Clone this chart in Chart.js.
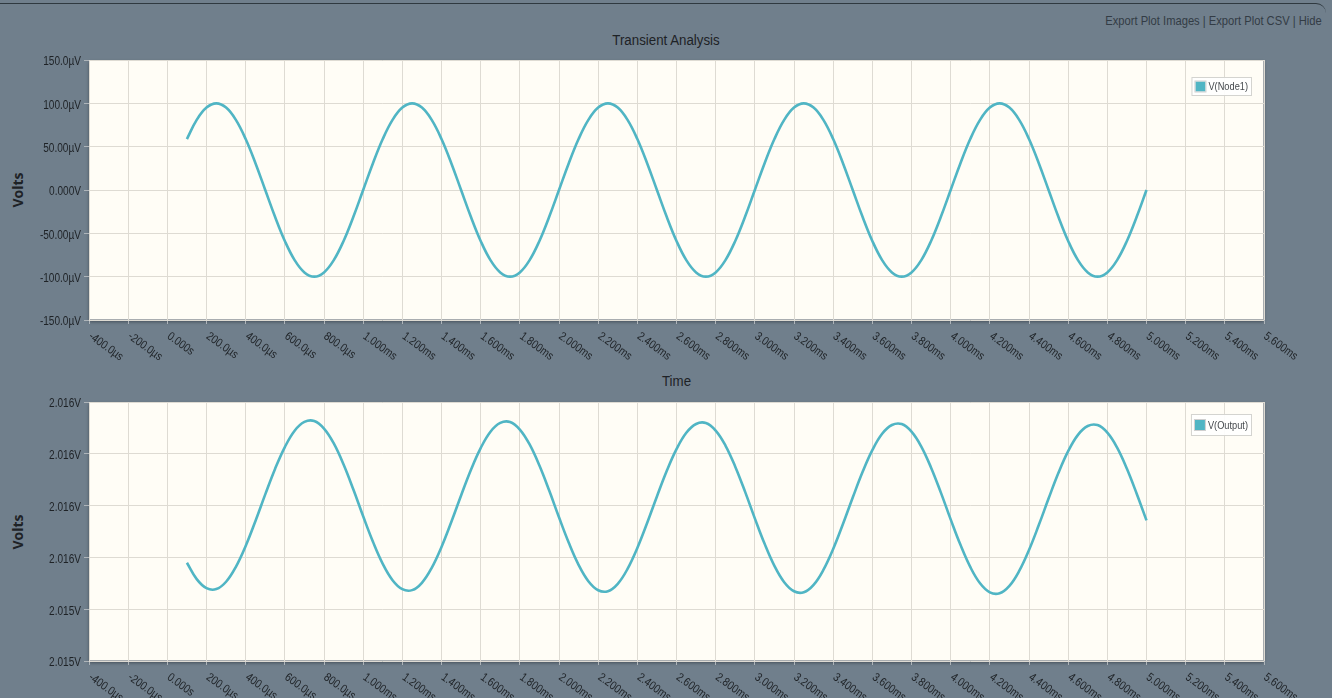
<!DOCTYPE html>
<html>
<head>
<meta charset="utf-8">
<title>Transient Analysis</title>
<script src="https://cdn.jsdelivr.net/npm/chart.js@4.4.1/dist/chart.umd.min.js"></script>
<style>
  html, body { margin: 0; padding: 0; width: 1332px; height: 698px; overflow: hidden; background: #707f8c; font-family: "Liberation Sans", Arial, sans-serif; }
  #panel { position: absolute; left: 0; top: 3px; width: 1326px; height: 695px; background: #707f8c; border-top: 1px solid #2f3940; border-top-right-radius: 10px; }
  .abs { position: absolute; white-space: nowrap; color: #1e2226; }
  #links { right: 10px; top: 13px; font-size: 13px; color: #333c45; transform: scaleX(0.86); transform-origin: right center; }
  #mainTitle { left: 0; width: 1332px; top: 32px; text-align: center; font-size: 14px; transform: scaleX(0.95); }
  #timeTitle { left: 89px; width: 1175px; top: 373px; text-align: center; font-size: 14px; transform: scaleX(0.95); }
  .volts { font-size: 14px; font-weight: bold; color: #1e2226; transform: translate(-50%, -50%) rotate(-90deg); font-family: "Open Sans", "DejaVu Sans", sans-serif; }
  canvas { position: absolute; left: 0; }
  #c1 { top: 0; }
  #c2 { top: 392px; }
</style>
</head>
<body>
<div id="panel"></div>
<div class="abs" id="links">Export Plot Images | Export Plot CSV | Hide</div>
<div class="abs" id="mainTitle">Transient Analysis</div>
<div class="abs" id="timeTitle">Time</div>
<div class="abs volts" style="left:17px; top:190px;">Volts</div>
<div class="abs volts" style="left:17px; top:532px;">Volts</div>
<canvas id="c1" width="1332" height="392"></canvas>
<canvas id="c2" width="1332" height="306"></canvas>
<script>
// Simulation sample times (µs)
const timeUs = [
  100, 150, 200, 250, 300, 350, 400, 450, 500, 550, 600, 650, 700, 750, 800, 850, 900, 950,
  1000, 1050, 1100, 1150, 1200, 1250, 1300, 1350, 1400, 1450, 1500, 1550, 1600, 1650, 1700, 1750, 1800, 1850, 1900, 1950,
  2000, 2050, 2100, 2150, 2200, 2250, 2300, 2350, 2400, 2450, 2500, 2550, 2600, 2650, 2700, 2750, 2800, 2850, 2900, 2950,
  3000, 3050, 3100, 3150, 3200, 3250, 3300, 3350, 3400, 3450, 3500, 3550, 3600, 3650, 3700, 3750, 3800, 3850, 3900, 3950,
  4000, 4050, 4100, 4150, 4200, 4250, 4300, 4350, 4400, 4450, 4500, 4550, 4600, 4650, 4700, 4750, 4800, 4850, 4900, 4950,
  5000
];

// V(Node1) in µV
const node1Uv = [
  58.8, 80.9, 95.1, 100.0, 95.1, 80.9, 58.8, 30.9, 0.0, -30.9, -58.8, -80.9, -95.1, -100.0, -95.1, -80.9, -58.8, -30.9,
  0.0, 30.9, 58.8, 80.9, 95.1, 100.0, 95.1, 80.9, 58.8, 30.9, 0.0, -30.9, -58.8, -80.9, -95.1, -100.0, -95.1, -80.9, -58.8, -30.9,
  0.0, 30.9, 58.8, 80.9, 95.1, 100.0, 95.1, 80.9, 58.8, 30.9, 0.0, -30.9, -58.8, -80.9, -95.1, -100.0, -95.1, -80.9, -58.8, -30.9,
  0.0, 30.9, 58.8, 80.9, 95.1, 100.0, 95.1, 80.9, 58.8, 30.9, 0.0, -30.9, -58.8, -80.9, -95.1, -100.0, -95.1, -80.9, -58.8, -30.9,
  0.0, 30.9, 58.8, 80.9, 95.1, 100.0, 95.1, 80.9, 58.8, 30.9, 0.0, -30.9, -58.8, -80.9, -95.1, -100.0, -95.1, -80.9, -58.8, -30.9,
  0.0
];

// V(Output) in V
const outputV = [
  2.0154948, 2.0154790, 2.0154703, 2.0154694, 2.0154765, 2.0154909, 2.0155111, 2.0155352, 2.0155608, 2.0155854, 2.0156065, 2.0156223, 2.0156308, 2.0156317, 2.0156244, 2.0156100, 2.0155896, 2.0155655,
  2.0155397, 2.0155151, 2.0154938, 2.0154780, 2.0154693, 2.0154684, 2.0154755, 2.0154899, 2.0155101, 2.0155342, 2.0155598, 2.0155844, 2.0156055, 2.0156213, 2.0156298, 2.0156307, 2.0156234, 2.0156090, 2.0155886, 2.0155645,
  2.0155387, 2.0155141, 2.0154928, 2.0154770, 2.0154683, 2.0154674, 2.0154745, 2.0154889, 2.0155091, 2.0155332, 2.0155588, 2.0155834, 2.0156045, 2.0156203, 2.0156288, 2.0156297, 2.0156224, 2.0156080, 2.0155876, 2.0155635,
  2.0155377, 2.0155131, 2.0154918, 2.0154760, 2.0154673, 2.0154664, 2.0154735, 2.0154879, 2.0155081, 2.0155322, 2.0155578, 2.0155824, 2.0156035, 2.0156193, 2.0156278, 2.0156287, 2.0156214, 2.0156070, 2.0155866, 2.0155625,
  2.0155367, 2.0155121, 2.0154908, 2.0154750, 2.0154663, 2.0154654, 2.0154725, 2.0154869, 2.0155071, 2.0155312, 2.0155568, 2.0155814, 2.0156025, 2.0156183, 2.0156268, 2.0156277, 2.0156204, 2.0156060, 2.0155856, 2.0155615,
  2.0155357
];

// Time axis ticks (µs) and their labels
const timeTickValues = [
  -400, -200, 0, 200, 400, 600, 800, 1000, 1200, 1400, 1600, 1800, 2000, 2200, 2400, 2600,
  2800, 3000, 3200, 3400, 3600, 3800, 4000, 4200, 4400, 4600, 4800, 5000, 5200, 5400, 5600
];
const timeTickLabels = [
  '-400.0µs', '-200.0µs', '0.000s', '200.0µs', '400.0µs', '600.0µs', '800.0µs', '1.000ms', '1.200ms', '1.400ms',
  '1.600ms', '1.800ms', '2.000ms', '2.200ms', '2.400ms', '2.600ms', '2.800ms', '3.000ms', '3.200ms', '3.400ms',
  '3.600ms', '3.800ms', '4.000ms', '4.200ms', '4.400ms', '4.600ms', '4.800ms', '5.000ms', '5.200ms', '5.400ms', '5.600ms'
];

// Voltage axis ticks, bottom to top
const node1TickValues = [-150, -100, -50, 0, 50, 100, 150];
const node1TickLabels = ['-150.0µV', '-100.0µV', '-50.00µV', '0.000V', '50.00µV', '100.0µV', '150.0µV'];
const outputTickValues = [2.01540, 2.01545, 2.01550, 2.01555, 2.01560, 2.01565];
const outputTickLabels = ['2.015V', '2.015V', '2.016V', '2.016V', '2.016V', '2.016V'];

const seriesNames = ['V(Node1)', 'V(Output)'];
const traceColor = '#50b5c4';
const labelFont = '"Liberation Sans", Arial, sans-serif';
const condense = 0.84;   // horizontal squeeze for the compact label face

// Cream plot area with a soft edge, drawn under the grid
const plotFrame = {
  id: 'plotFrame',
  beforeDraw(chart) {
    const { ctx, chartArea: a } = chart;
    ctx.save();
    ctx.shadowColor = 'rgba(20,25,30,0.45)';
    ctx.shadowBlur = 3;
    ctx.shadowOffsetX = 0;
    ctx.shadowOffsetY = 2;
    ctx.fillStyle = '#fffdf6';
    ctx.fillRect(a.left, a.top, a.width, a.height);
    ctx.restore();
    ctx.save();
    ctx.strokeStyle = '#a9adb0';
    ctx.lineWidth = 1;
    ctx.strokeRect(a.left + 0.5, a.top + 0.5, a.width - 1, a.height - 1);
    ctx.restore();
  }
};

// Axis labels: slanted time labels under the x ticks, compact volt labels beside the y ticks
const axisLabels = {
  id: 'axisLabels',
  afterDraw(chart, args, opts) {
    const { ctx, chartArea: a } = chart;
    const xs = chart.scales.x, ys = chart.scales.y;
    ctx.save();
    ctx.font = '12px ' + labelFont;
    ctx.fillStyle = '#1e2226';
    ctx.textBaseline = 'middle';
    ctx.textAlign = 'left';
    xs.ticks.forEach((t, i) => {
      const px = xs.getPixelForValue(t.value);
      ctx.save();
      ctx.translate(px + 1, a.bottom + 15);
      ctx.rotate(36 * Math.PI / 180);
      ctx.scale(condense, 1);
      ctx.fillText(timeTickLabels[i], 0, 0);
      ctx.restore();
    });
    ctx.textAlign = 'right';
    ys.ticks.forEach((t, i) => {
      const py = ys.getPixelForValue(t.value);
      ctx.save();
      ctx.translate(a.left - 8, py + 2);
      ctx.scale(condense, 1);
      ctx.fillText(opts.labels[i], 0, 0);
      ctx.restore();
    });
    ctx.restore();
  }
};

// Small legend box in the upper-right corner of the plot
const cornerLegend = {
  id: 'cornerLegend',
  afterDatasetsDraw(chart, args, opts) {
    const { ctx, chartArea: a } = chart;
    const ds = chart.data.datasets[0];
    ctx.save();
    ctx.font = '11px ' + labelFont;
    const tw = ctx.measureText(ds.label).width * condense;
    const w = tw + 21, h = opts.boxHeight;
    const x = a.right - 12 - w, y = a.top + opts.offsetTop;
    ctx.fillStyle = 'rgba(255,255,255,0.9)';
    ctx.fillRect(x, y, w, h);
    ctx.strokeStyle = '#d4d4d0';
    ctx.lineWidth = 1;
    ctx.strokeRect(x + 0.5, y + 0.5, w - 1, h - 1);
    const sq = 10;
    const sy = y + (h - sq) / 2;
    ctx.fillStyle = ds.borderColor;
    ctx.fillRect(x + 4, sy, sq, sq);
    ctx.strokeStyle = '#cfcfcf';
    ctx.strokeRect(x + 3.5, sy - 0.5, sq + 1, sq + 1);
    ctx.fillStyle = '#45494d';
    ctx.textBaseline = 'middle';
    ctx.translate(x + 17, y + h / 2 + 0.5);
    ctx.scale(condense, 1);
    ctx.fillText(ds.label, 0, 0);
    ctx.restore();
  }
};

function makeChart(canvasId, name, yValues, tickValues, tickLabels, yMin, yMax, padTop, xHeight, legendOpts) {
  return new Chart(document.getElementById(canvasId), {
    type: 'line',
    data: {
      datasets: [{
        label: name,
        data: timeUs.map((t, i) => ({ x: t, y: yValues[i] })),
        borderColor: traceColor,
        backgroundColor: traceColor,
        borderWidth: 2.6,
        pointRadius: 0,
        tension: 0.4,
        fill: false
      }]
    },
    options: {
      responsive: false,
      animation: false,
      devicePixelRatio: 1,
      layout: { padding: { top: padTop, right: 68, left: 0, bottom: 0 } },
      plugins: {
        legend: { display: false },
        tooltip: { enabled: false },
        cornerLegend: legendOpts,
        axisLabels: { labels: tickLabels }
      },
      scales: {
        x: {
          type: 'linear',
          min: -400,
          max: 5600,
          afterBuildTicks: s => { s.ticks = timeTickValues.map(v => ({ value: v })); },
          afterFit: s => { s.height = xHeight; },
          ticks: { display: false, autoSkip: false },
          grid: { color: '#dedbd3', lineWidth: 1, tickLength: 4, tickColor: '#aeb4b9', drawTicks: true },
          border: { display: false }
        },
        y: {
          type: 'linear',
          min: yMin,
          max: yMax,
          afterBuildTicks: s => { s.ticks = tickValues.map(v => ({ value: v })); },
          afterFit: s => { s.width = 89; },
          ticks: { display: false, autoSkip: false },
          grid: { color: '#dedbd3', lineWidth: 1, tickLength: 5, tickColor: '#aeb4b9', drawTicks: true },
          border: { display: false }
        }
      }
    },
    plugins: [plotFrame, axisLabels, cornerLegend]
  });
}

makeChart('c1', seriesNames[0], node1Uv, node1TickValues, node1TickLabels, -150, 150, 60, 72,
  { offsetTop: 17, boxHeight: 19 });
makeChart('c2', seriesNames[1], outputV, outputTickValues, outputTickLabels, 2.01540, 2.01565, 10, 37,
  { offsetTop: 12, boxHeight: 22 });
</script>
</body>
</html>
